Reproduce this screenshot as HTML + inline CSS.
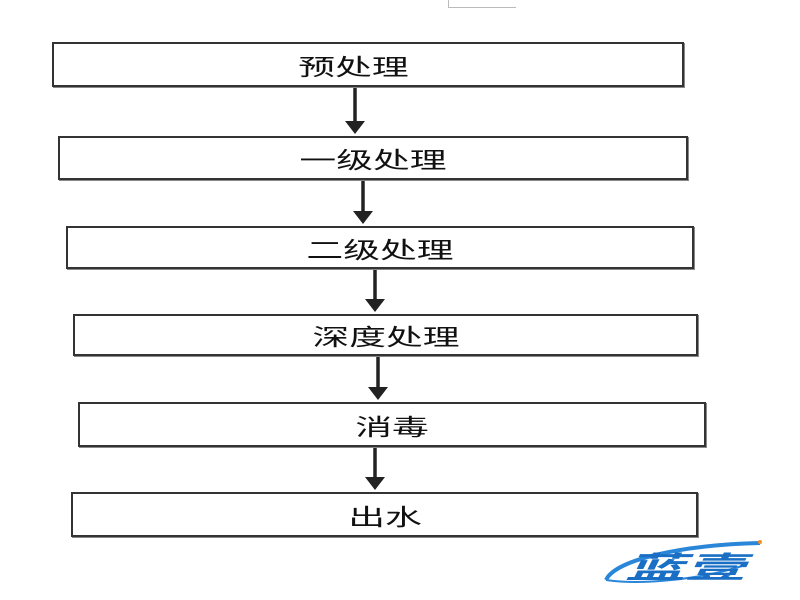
<!DOCTYPE html>
<html><head><meta charset="utf-8"><style>
body{margin:0;width:800px;height:600px;background:#fff;position:relative;overflow:hidden;font-family:"Liberation Sans","Noto Sans CJK SC",sans-serif}
.b{position:absolute;border:2px solid #333;box-sizing:border-box;background:#fff;display:flex;align-items:center;justify-content:center;font-size:23px;color:#111;box-shadow:1px 1px 0 #888}
.b span{display:inline-block;transform:scaleX(1.6)}
</style></head><body>
<div style="position:absolute;left:448px;top:0;width:67px;height:7px;border-left:1px solid #bbb;border-bottom:1px solid #bbb"></div>
<div class="b" style="left:52px;top:42px;width:632px;height:45px"><span style="margin-right:30px">预处理</span></div>
<div class="b" style="left:58px;top:136px;width:630px;height:44px"><span>一级处理</span></div>
<div class="b" style="left:66px;top:226px;width:628px;height:43px"><span>二级处理</span></div>
<div class="b" style="left:73px;top:314px;width:625px;height:42px"><span>深度处理</span></div>
<div class="b" style="left:78px;top:402px;width:628px;height:45px"><span>消毒</span></div>
<div class="b" style="left:71px;top:492px;width:627px;height:45px"><span>出水</span></div>
<svg width="800" height="600" style="position:absolute;left:0;top:0">
<g fill="#222" stroke="#222">
<line x1="355" y1="88" x2="355" y2="124" stroke-width="3.5"/><polygon points="345,121 365,121 355,134" stroke="none"/>
<line x1="363" y1="181" x2="363" y2="214" stroke-width="3.5"/><polygon points="353,211 373,211 363,224" stroke="none"/>
<line x1="375" y1="270" x2="375" y2="302" stroke-width="3.5"/><polygon points="365,299 385,299 375,312" stroke="none"/>
<line x1="378" y1="357" x2="378" y2="390" stroke-width="3.5"/><polygon points="368,387 388,387 378,400" stroke="none"/>
<line x1="375" y1="448" x2="375" y2="480" stroke-width="3.5"/><polygon points="365,477 385,477 375,490" stroke="none"/>
</g>
<path d="M606,580 C615,560 680,545 760,543" stroke="#2a86d8" stroke-width="4" fill="none"/>
<path d="M606,580 C640,585 700,580 745,565" stroke="#2a86d8" stroke-width="2" fill="none"/>
<circle cx="760" cy="542" r="2" fill="#f39020"/>
<text x="625" y="578" font-size="30" font-weight="bold" fill="#1a6fc4" font-style="italic" font-family="Noto Sans CJK SC,sans-serif" textLength="120" lengthAdjust="spacingAndGlyphs">蓝壹</text>
</svg>
</body></html>
